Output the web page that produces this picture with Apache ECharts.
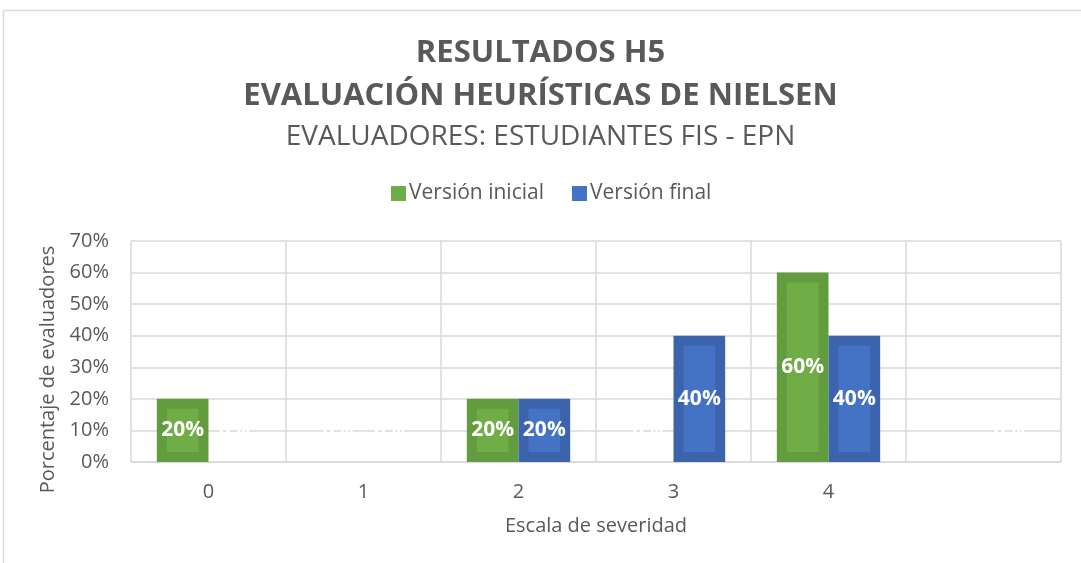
<!DOCTYPE html>
<html><head><meta charset="utf-8">
<script src="https://cdn.jsdelivr.net/npm/echarts@6/dist/echarts.min.js"></script>
<style>html,body{margin:0;padding:0;background:#fff}#c{width:1081px;height:563px}</style>
</head><body><div id="c"></div>
<script>
const categories = ['0', '1', '2', '3', '4', ''];
const seriesNames = ['Versión inicial', 'Versión final'];
const inicial = [0.2, 0, 0.2, 0, 0.6, null];
const final = [0, 0, 0.2, 0.4, 0.4, 0];
const yTickValues = [0, 0.1, 0.2, 0.3, 0.4, 0.5, 0.6, 0.7];
const titleLines = ['RESULTADOS H5', 'EVALUACIÓN HEURÍSTICAS DE NIELSEN'];
const subtitle = 'EVALUADORES: ESTUDIANTES FIS - EPN';

const FONT = '"Open Sans", sans-serif';
const TXT = '#595959';
const GRID = '#d9d9d9';

function pct(v) { return Math.round(v * 100) + '%'; }

function makeRender(slot, outer, inner) {
  return function (params, api) {
    const v = api.value(1);
    if (v == null || isNaN(v)) return;
    const cat = api.value(0);
    const base = api.coord([cat, 0]);
    const top = api.coord([cat, v]);
    const band = api.size([1, 0])[0];
    const bw = band / 3;
    const x0 = base[0] - bw + slot * bw;
    const h = base[1] - top[1];
    const children = [];
    if (h > 0) {
      children.push({ type: 'rect', shape: { x: x0, y: top[1], width: bw, height: h }, style: { fill: outer } });
      const ins = 10;
      if (h > 2 * ins) {
        children.push({ type: 'rect', shape: { x: x0 + ins, y: top[1] + ins, width: bw - 2 * ins, height: h - 2 * ins }, style: { fill: inner } });
      }
    }
    const ly = h > 0 ? top[1] + h / 2 : base[1] - 32;
    children.push({
      type: 'text',
      style: {
        text: pct(v), x: x0 + bw / 2, y: ly, align: 'center', verticalAlign: 'middle',
        fill: '#ffffff', fontSize: 21, fontWeight: 'bold', fontFamily: FONT
      }
    });
    return { type: 'group', children };
  };
}

const chart = echarts.init(document.getElementById('c'), null, { renderer: 'canvas' });
chart.setOption({
  backgroundColor: '#ffffff',
  animation: false,
  graphic: [{
    type: 'rect', shape: { x: 3.5, y: 10.5, width: 1200, height: 700 },
    style: { fill: 'none', stroke: GRID, lineWidth: 1.5 }, silent: true, z: -10
  }],
  title: [
    {
      text: titleLines[0], left: 'center', top: 33, padding: 0,
      textStyle: { fontFamily: FONT, fontSize: 31, fontWeight: 'bold', color: TXT, lineHeight: 40 }
    },
    {
      text: titleLines[1], left: 'center', top: 76, padding: 0,
      textStyle: { fontFamily: FONT, fontSize: 31, fontWeight: 'bold', color: TXT, lineHeight: 40 }
    },
    {
      text: subtitle, left: 'center', top: 122, padding: 0,
      textStyle: { fontFamily: FONT, fontSize: 28, fontWeight: 'normal', color: TXT, lineHeight: 30 }
    }
  ],
  legend: {
    data: seriesNames, top: 183, left: 391, itemWidth: 15, itemHeight: 15, itemGap: 28,
    icon: 'rect', padding: 0,
    textStyle: { fontFamily: FONT, fontSize: 21, color: TXT, padding: [0, 0, 0, -2] }
  },
  grid: { left: 131, right: 20, top: 241, bottom: 101 },
  xAxis: {
    type: 'category', data: categories,
    axisLine: { lineStyle: { color: GRID, width: 1.5 } },
    axisTick: { show: false },
    splitLine: { show: true, lineStyle: { color: GRID, width: 1.5 } },
    axisLabel: { color: TXT, fontSize: 20, fontFamily: FONT, margin: 20 },
    name: 'Escala de severidad', nameLocation: 'middle', nameGap: 54,
    nameTextStyle: { color: TXT, fontSize: 20, fontFamily: FONT }
  },
  yAxis: {
    type: 'value', min: yTickValues[0], max: yTickValues[yTickValues.length - 1], interval: 0.1,
    axisLine: { show: false }, axisTick: { show: false },
    splitLine: { lineStyle: { color: GRID, width: 1.5 } },
    axisLabel: { color: TXT, fontSize: 20, fontFamily: FONT, margin: 22, formatter: pct },
    name: 'Porcentaje de evaluadores', nameLocation: 'middle', nameGap: 59, nameRotate: 90,
    nameTextStyle: { color: TXT, fontSize: 20, fontFamily: FONT, padding: [0, 36, 0, 0] }
  },
  series: [
    {
      name: seriesNames[0], type: 'custom', itemStyle: { color: '#70ad47' },
      renderItem: makeRender(0, '#629c3e', '#70ad47'),
      encode: { x: 0, y: 1 },
      data: inicial.map((v, i) => [i, v])
    },
    {
      name: seriesNames[1], type: 'custom', itemStyle: { color: '#4472c4' },
      renderItem: makeRender(1, '#3b64ad', '#4472c4'),
      encode: { x: 0, y: 1 },
      data: final.map((v, i) => [i, v])
    }
  ]
});
</script></body></html>
